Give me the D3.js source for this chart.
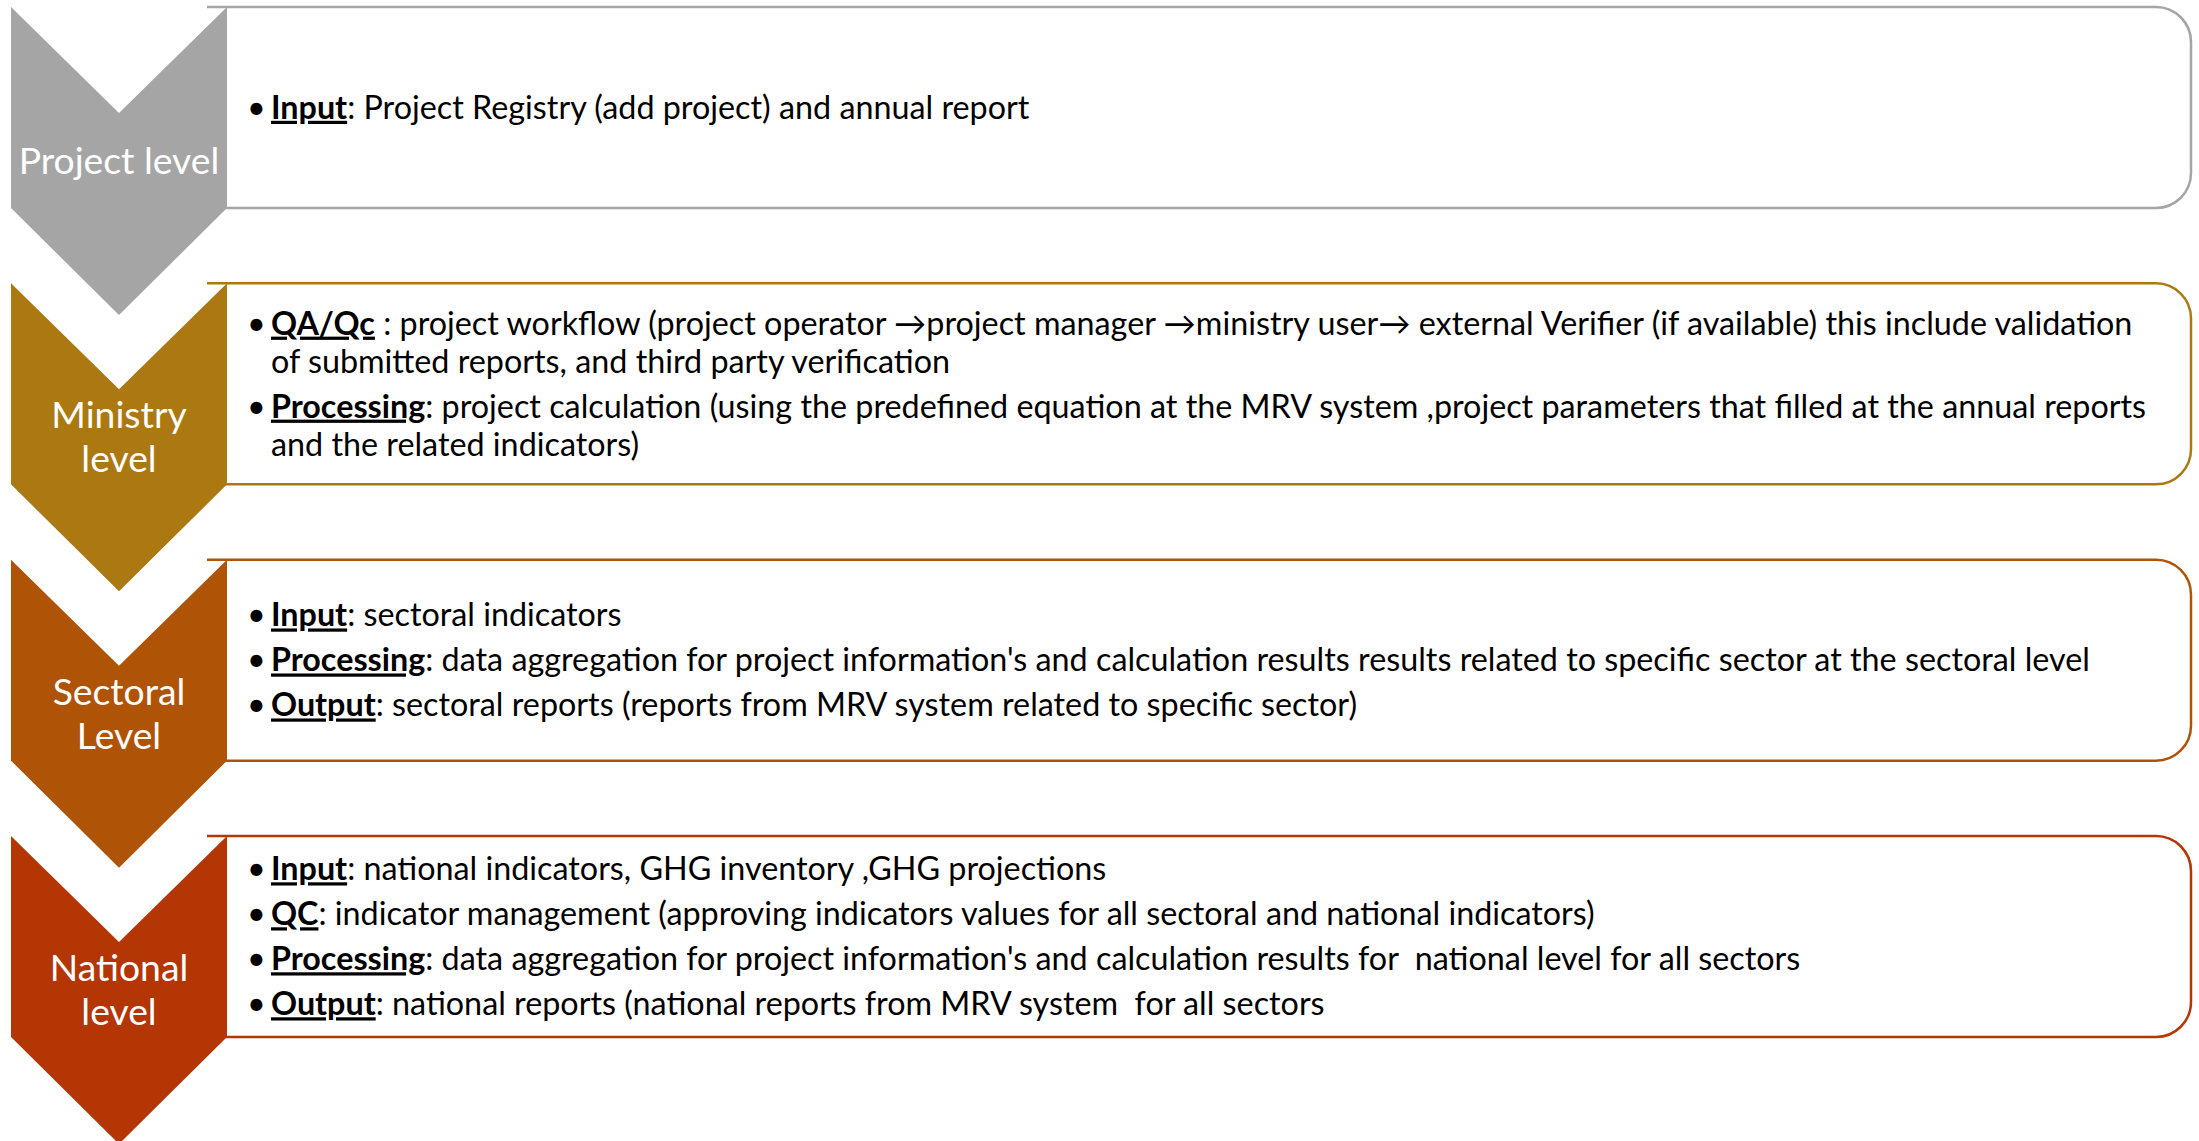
<!DOCTYPE html>
<html>
<head>
<meta charset="utf-8">
<script src="https://cdn.jsdelivr.net/npm/d3@7"></script>
<style>
  html, body { margin: 0; padding: 0; background: #fff; }
  svg text { font-family: Lato, "Open Sans", sans-serif; }
</style>
</head>
<body>
<div id="container"></div>
<script>
// level labels shown in the chevrons (one entry per text line)
const levelLabels = [
    ["Project level"],
    ["Ministry", "level"],
    ["Sectoral", "Level"],
    ["National", "level"]
];
const levelColors = ["#a5a5a5", "#ac7812", "#af5307", "#b33604"];

// bullets for each level: bold underlined key, then the rest split per line
const projectItems = [
    { key: "Input", lines: [": Project Registry (add project) and annual report"] }
];
const ministryItems = [
    { key: "QA/Qc", lines: [" : project workflow (project operator \u2192project manager \u2192ministry user\u2192 external Verifier (if available) this include validation",
                            "of submitted reports, and third party verification"] },
    { key: "Processing", lines: [": project calculation (using the predefined equation at the MRV system ,project parameters that filled at the annual reports",
                                 "and the related indicators)"] }
];
const sectoralItems = [
    { key: "Input", lines: [": sectoral indicators"] },
    { key: "Processing", lines: [": data aggregation for project information's and calculation results results related to specific sector at the sectoral level"] },
    { key: "Output", lines: [": sectoral reports (reports from MRV system related to specific sector)"] }
];
const nationalItems = [
    { key: "Input", lines: [": national indicators, GHG inventory ,GHG projections"] },
    { key: "QC", lines: [": indicator management (approving indicators values for all sectoral and national indicators)"] },
    { key: "Processing", lines: [": data aggregation for project information's and calculation results for\u00a0 national level for all sectors"] },
    { key: "Output", lines: [": national reports (national reports from MRV system\u00a0 for all sectors"] }
];
const levelItems = [projectItems, ministryItems, sectoralItems, nationalItems];

// dimensions
const w = 2199;
const h = 1141;
const chevLeft = 11, chevRight = 227;
const boxH = 201, notch = 106, tip = 107;
const boxRight = 2191, radius = 35;
const bulletX = 247, textX = 271;
const fontSize = 32.3, labelSize = 37.3;
const wrapGap = 38, itemGap = 45, labelGap = 44;

const rowY = d3.scaleLinear().domain([0, levelLabels.length - 1]).range([7, 836]);
const chevMid = (chevLeft + chevRight) / 2;

const svg = d3.select("#container")
              .append("svg")
              .attr("width", w)
              .attr("height", h);

const rows = svg.selectAll("g.row")
                .data(levelLabels)
                .enter()
                .append("g")
                .attr("class", "row")
                .attr("transform", (d, i) => "translate(0," + rowY(i) + ")");

// text boxes (square on the left, rounded on the right)
rows.append("path")
    .attr("d", function(){
        const p = d3.path();
        p.moveTo(chevRight - 20, 0);
        p.lineTo(boxRight - radius, 0);
        p.arcTo(boxRight, 0, boxRight, radius, radius);
        p.lineTo(boxRight, boxH - radius);
        p.arcTo(boxRight, boxH, boxRight - radius, boxH, radius);
        p.lineTo(chevRight - 20, boxH);
        return p.toString();
    })
    .attr("fill", "#fff")
    .attr("stroke", (d, i) => levelColors[i])
    .attr("stroke-width", 2.5);

// chevrons
const chevLine = d3.line();
rows.append("path")
    .attr("d", () => chevLine([
        [chevLeft, 0], [chevMid, notch], [chevRight, 0],
        [chevRight, boxH], [chevMid, boxH + tip], [chevLeft, boxH]
    ]) + "Z")
    .attr("fill", (d, i) => levelColors[i]);

// chevron labels
rows.each(function(label){
    const g = d3.select(this);
    const cy = (boxH + tip) / 2;
    const top = cy - (label.length - 1) * labelGap / 2;
    g.selectAll("text.label")
     .data(label)
     .enter()
     .append("text")
     .attr("class", "label")
     .attr("x", chevMid)
     .attr("y", (t, j) => top + j * labelGap)
     .attr("dy", "0.35em")
     .attr("text-anchor", "middle")
     .style("font-size", labelSize + "px")
     .style("fill", "#fff")
     .text(t => t);
});

// bullet text
rows.each(function(label, i){
    const g = d3.select(this);
    const items = levelItems[i];
    const lines = [];
    let y = 0;
    items.forEach(function(item, k){
        if (k > 0) y += itemGap;
        item.lines.forEach(function(t, j){
            if (j > 0) y += wrapGap;
            lines.push({ y: y, first: j === 0, key: item.key, text: t });
        });
    });
    const offset = boxH / 2 - y / 2;

    const txt = g.selectAll("text.line")
                 .data(lines)
                 .enter()
                 .append("text")
                 .attr("class", "line")
                 .attr("x", textX)
                 .attr("y", d => d.y + offset)
                 .attr("dy", "0.35em")
                 .style("font-size", fontSize + "px")
                 .style("fill", "#000")
                 .style("white-space", "pre");

    txt.filter(d => d.first)
       .append("tspan")
       .attr("x", bulletX)
       .text("\u2022");
    txt.filter(d => d.first)
       .append("tspan")
       .attr("x", textX)
       .style("font-weight", "bold")
       .style("text-decoration", "underline")
       .text(d => d.key);
    txt.append("tspan")
       .attr("x", d => d.first ? null : textX)
       .text(d => d.text);
});
</script>
</body>
</html>
